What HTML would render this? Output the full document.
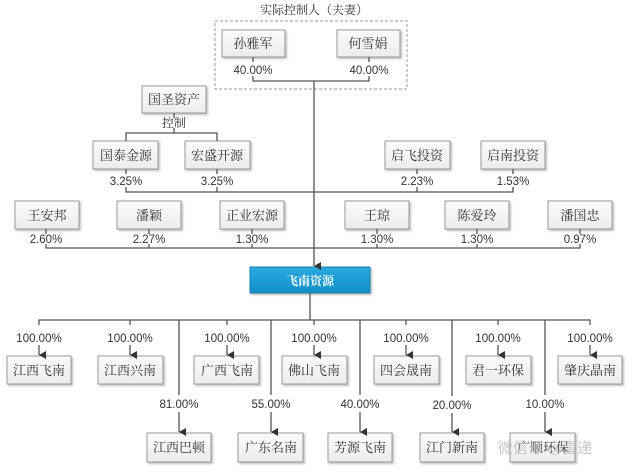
<!DOCTYPE html>
<html><head><meta charset="utf-8"><style>
html,body{margin:0;padding:0;background:#fff;}
svg{display:block;}
.b{fill:url(#g);stroke:#999;stroke-width:1;}
.t{font-family:"Liberation Serif","Noto Serif CJK SC",serif;font-size:13px;fill:#333;text-anchor:middle;}
.p{font-family:"Liberation Sans","Noto Sans CJK SC",sans-serif;font-size:11.5px;fill:#333;text-anchor:middle;}
.l{stroke:#555;stroke-width:1.3;fill:none;}
</style></head><body>
<svg width="640" height="472" viewBox="0 0 640 472" xmlns="http://www.w3.org/2000/svg">
<defs>
<linearGradient id="g" x1="0" y1="0" x2="0" y2="1"><stop offset="0" stop-color="#fbfbfb"/><stop offset="1" stop-color="#ececec"/></linearGradient>
<linearGradient id="bl" x1="0" y1="0" x2="0" y2="1"><stop offset="0" stop-color="#2aa9e0"/><stop offset="1" stop-color="#138fc8"/></linearGradient>
<marker id="a" markerWidth="8" markerHeight="8" refX="4" refY="7" orient="auto" markerUnits="userSpaceOnUse"><path d="M0,0 L8,0 L4,7 z" fill="#333"/></marker>
<filter id="s"><feDropShadow dx="1.5" dy="1.5" stdDeviation="1" flood-color="#000" flood-opacity="0.25"/></filter>
</defs>
<text x="314" y="14" class="t" style="font-size:12px">实际控制人（夫妻）</text>
<rect x="215" y="21" width="192" height="68" fill="none" stroke="#999" stroke-dasharray="3,2"/>
<g filter="url(#s)">
<rect class="b" x="222" y="30" width="63" height="27"/>
<rect class="b" x="337" y="30" width="63" height="27"/>
<rect class="b" x="142" y="86" width="64" height="27"/>
<rect class="b" x="93" y="141" width="65" height="28"/>
<rect class="b" x="185" y="141" width="65" height="28"/>
<rect class="b" x="385" y="141" width="65" height="28"/>
<rect class="b" x="481" y="141" width="64" height="28"/>
<rect class="b" x="15" y="201" width="64" height="28"/>
<rect class="b" x="117" y="201" width="64" height="28"/>
<rect class="b" x="220" y="201" width="64" height="28"/>
<rect class="b" x="345" y="201" width="64" height="28"/>
<rect class="b" x="445" y="201" width="64" height="28"/>
<rect class="b" x="548" y="201" width="64" height="28"/>
<rect x="250" y="267" width="120" height="26" fill="url(#bl)" stroke="#1a7fb0"/>
<rect class="b" x="7" y="356" width="64" height="28"/>
<rect class="b" x="98" y="356" width="65" height="28"/>
<rect class="b" x="194" y="356" width="65" height="28"/>
<rect class="b" x="282" y="356" width="65" height="28"/>
<rect class="b" x="374" y="356" width="65" height="28"/>
<rect class="b" x="466" y="356" width="65" height="28"/>
<rect class="b" x="558" y="356" width="64" height="28"/>
<rect class="b" x="147" y="433" width="64" height="29"/>
<rect class="b" x="238" y="433" width="65" height="29"/>
<rect class="b" x="328" y="433" width="64" height="29"/>
<rect class="b" x="420" y="433" width="64" height="29"/>
<rect class="b" x="510" y="433" width="65" height="29"/>
</g>
<g class="t">
<text x="253" y="48">孙雅军</text><text x="368" y="48">何雪娟</text>
<text x="174" y="104">国圣资产</text>
<text x="126" y="160">国泰金源</text><text x="217" y="160">宏盛开源</text>
<text x="417" y="160">启飞投资</text><text x="513" y="160">启南投资</text>
<text x="47" y="220">王安邦</text><text x="149" y="220">潘颖</text><text x="252" y="220">正业宏源</text>
<text x="377" y="220">王琼</text><text x="477" y="220">陈爱玲</text><text x="580" y="220">潘国忠</text>
<text x="310" y="285" style="fill:#fff;font-size:12px;font-weight:bold">飞南资源</text>
<text x="39" y="375">江西飞南</text><text x="130" y="375">江西兴南</text><text x="227" y="375">广西飞南</text>
<text x="314" y="375">佛山飞南</text><text x="406" y="375">四会晟南</text><text x="498" y="375">君一环保</text><text x="590" y="375">肇庆晶南</text>
<text x="179" y="452">江西巴顿</text><text x="271" y="452">广东名南</text><text x="360" y="452">芳源飞南</text>
<text x="452" y="452">江门新南</text><text x="543" y="452">广顺环保</text>
</g>
<g class="p">
<text x="253" y="74">40.00%</text><text x="369" y="74">40.00%</text>
<text x="174" y="127" class="t" style="font-size:12px">控制</text>
<text x="126" y="185">3.25%</text><text x="217" y="185">3.25%</text><text x="417" y="185">2.23%</text><text x="513" y="185">1.53%</text>
<text x="46" y="243">2.60%</text><text x="149" y="243">2.27%</text><text x="252" y="243">1.30%</text>
<text x="377" y="243">1.30%</text><text x="477" y="243">1.30%</text><text x="580" y="243">0.97%</text>
<text x="39" y="342">100.00%</text><text x="130" y="342">100.00%</text><text x="227" y="342">100.00%</text>
<text x="314" y="342">100.00%</text><text x="406" y="342">100.00%</text><text x="498" y="342">100.00%</text><text x="590" y="342">100.00%</text>
<text x="179" y="408">81.00%</text><text x="271" y="408">55.00%</text><text x="360" y="408">40.00%</text>
<text x="452" y="409">20.00%</text><text x="545" y="408">10.00%</text>
</g>
<g class="l">
<path d="M253,57V62 M369,57V62 M253,76V81H369V76"/>
<path d="M174,113V118 M174,128V133 M126,141V133H217V141"/>
<path d="M126,169V174 M217,169V174 M417,169V174 M513,169V174 M126,187V192H513V187 M417,192V187 M217,192V187"/>
<path d="M46,229V234 M149,229V234 M252,229V234 M377,229V234 M477,229V234 M580,229V234"/>
<path d="M46,244V248H580V244 M149,248V244 M252,248V244 M377,248V244 M477,248V244"/>
<path d="M314,81V266" marker-end="url(#a)"/>
<path d="M310,293V320 M39,325V320H590V325 M130,320V325 M227,320V325 M314,320V325 M406,320V325 M498,320V325 M179,320V395 M271,320V395 M360,320V395 M452,320V396 M545,320V395"/>
<path d="M39,345V355" marker-end="url(#a)"/><path d="M130,345V355" marker-end="url(#a)"/><path d="M227,345V355" marker-end="url(#a)"/>
<path d="M314,345V355" marker-end="url(#a)"/><path d="M406,345V355" marker-end="url(#a)"/><path d="M498,345V355" marker-end="url(#a)"/><path d="M590,345V355" marker-end="url(#a)"/>
<path d="M179,412V432" marker-end="url(#a)"/><path d="M271,412V432" marker-end="url(#a)"/><path d="M360,412V432" marker-end="url(#a)"/>
<path d="M452,413V432" marker-end="url(#a)"/><path d="M545,412V432" marker-end="url(#a)"/>
</g>
<text x="545" y="453" style="font-family:'Liberation Sans','Noto Sans CJK SC',sans-serif;font-size:15px;fill:#bbb;opacity:0.8" text-anchor="middle">微信号 @雷递</text>
</svg>
</body></html>
